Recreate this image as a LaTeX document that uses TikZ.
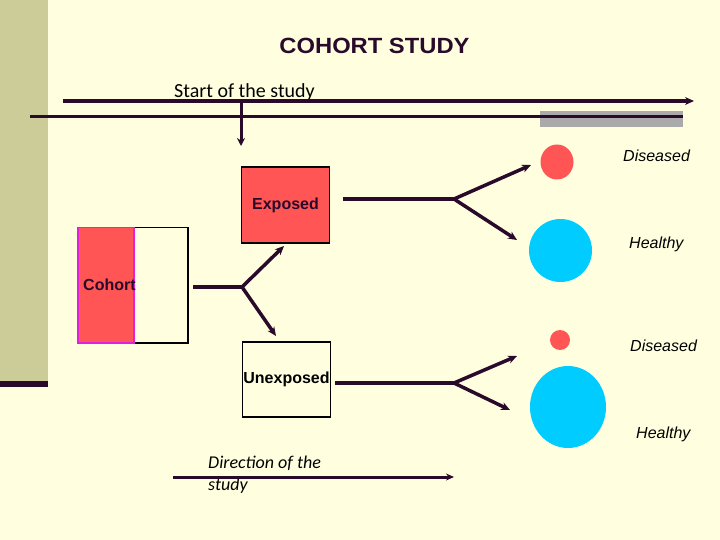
\documentclass[tikz,border=0pt]{standalone}
\usepackage{fontspec}
\setmainfont{Liberation Sans}
\newfontfamily\calfont{Carlito}
\usetikzlibrary{arrows.meta,shapes.geometric}
\definecolor{bgc}{HTML}{FFFFE0}
\definecolor{stripc}{HTML}{CCCC99}
\definecolor{dk}{HTML}{2A0A2A}
\definecolor{redc}{HTML}{FF5555}
\definecolor{bluec}{HTML}{00CCFF}
\definecolor{grayc}{HTML}{AAAAAA}
\definecolor{magc}{HTML}{E020E0}
\tikzset{
  conn/.style={draw=dk,line width=3.5pt},
  arr/.style={conn,-{Stealth[length=9pt,width=8pt]}},
  boxn/.style={draw=black,line width=1.5pt,minimum width=88pt,minimum height=76pt,inner sep=0pt},
  lab/.style={font=\fontsize{16}{18}\selectfont\itshape,text=black,inner sep=0pt,anchor=west},
  blob/.style={ellipse,inner sep=0pt,draw=none}
}
\begin{document}
\begin{tikzpicture}[x=1pt,y=-1pt]
\useasboundingbox (0,0) rectangle (720,540);
\fill[bgc] (0,0) rectangle (720,540);
\fill[stripc] (0,0) rectangle (48,381);
\fill[dk] (0,381) rectangle (48,387);
% title
\node[font=\fontsize{22}{24}\selectfont\bfseries,text=dk,xscale=1.08] (title) at (374.5,46) {COHORT STUDY};
% timeline
\node[font=\calfont\fontsize{20}{22}\selectfont,text=black,inner sep=0pt] (start) at (244.5,92) {Start of the study};
\coordinate (t1a) at (63,101);
\coordinate (t1b) at (694,101);
\draw[arr] (t1a) -- (t1b);
\node[fill=grayc,minimum width=143pt,minimum height=16pt,inner sep=0pt,anchor=north west] (grey) at (540,111) {};
\coordinate (t2a) at (30,117);
\coordinate (t2b) at (683,117);
\draw[dk,line width=3pt] (t2a) -- (t2b);
\coordinate (va) at (241,101);
\coordinate (vb) at (241,146);
\draw[dk,line width=3pt,-{Stealth[length=8pt,width=8pt]}] (va) -- (vb);
% cohort
\node[draw=black,line width=1.5pt,minimum width=110pt,minimum height=115pt,inner sep=0pt,anchor=north west] (cohortbox) at (77,227) {};
\node[fill=redc,draw=magc,line width=1.5pt,minimum width=56pt,minimum height=115pt,inner sep=0pt,anchor=north west] (cohortred) at (77,227) {};
\node[font=\fontsize{16}{18}\selectfont\bfseries,text=dk,inner sep=0pt,anchor=west] (cohort) at (83,285) {Cohort};
% exposed / unexposed
\node[boxn,fill=redc,font=\fontsize{16}{18}\selectfont\bfseries,text=dk] (exp) at (285.5,205) {Exposed};
\node[boxn,font=\fontsize{16}{18}\selectfont\bfseries,minimum width=88pt,minimum height=75pt] (unexp) at (286.5,379.5) {Unexposed};
\coordinate (c0) at (193,287);
\coordinate (c1) at (242,287);
\draw[conn] (c0) -- (c1);
\coordinate (cu) at (284,246);
\coordinate (cd) at (276,336);
\draw[arr] (c1) -- (cu);
\draw[arr] (c1) -- (cd);
% exposed branch
\coordinate (e0) at (343,199);
\coordinate (e1) at (454,199);
\draw[conn] (e0) -- (e1);
\coordinate (eu) at (531,165);
\coordinate (ed) at (517,240);
\draw[arr] (e1) -- (eu);
\draw[arr] (e1) -- (ed);
% unexposed branch
\coordinate (u0) at (335,383);
\coordinate (u1) at (454,383);
\draw[conn] (u0) -- (u1);
\coordinate (uu) at (517,356);
\coordinate (ud) at (510,410);
\draw[arr] (u1) -- (uu);
\draw[arr] (u1) -- (ud);
% outcomes
\node[blob,fill=redc,minimum width=33pt,minimum height=35pt] (d1) at (557,162) {};
\node[blob,fill=bluec,minimum width=63pt,minimum height=63pt] (h1) at (560.5,250.5) {};
\node[blob,fill=redc,minimum width=20pt,minimum height=20pt] (d2) at (560,340) {};
\node[blob,fill=bluec,minimum width=76pt,minimum height=82pt] (h2) at (568,407) {};
\node[lab] (dl1) at (623,156) {Diseased};
\node[lab] (hl1) at (629,244) {Healthy};
\node[lab] (dl2) at (630,346) {Diseased};
\node[lab] (hl2) at (636,434) {Healthy};
% direction
\node[font=\calfont\fontsize{18}{22}\selectfont\itshape,text=black,inner sep=0pt,anchor=north west,align=left] (dir) at (208,456) {Direction of the\\study};
\coordinate (da) at (173,477);
\coordinate (db) at (454,477);
\draw[dk,line width=3pt,-{Stealth[length=8pt,width=7pt]}] (da) -- (db);
\end{tikzpicture}
\end{document}
